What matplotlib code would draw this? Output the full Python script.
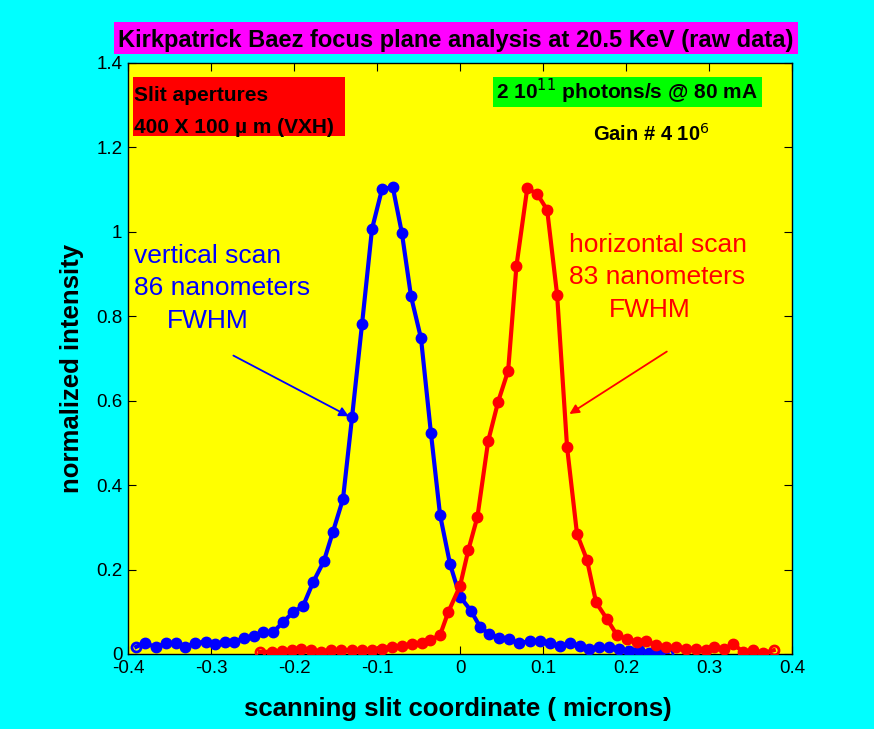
import matplotlib
matplotlib.use("Agg")
import matplotlib.pyplot as plt
from matplotlib.patches import Rectangle
from matplotlib.ticker import FormatStrFormatter, MultipleLocator

plt.rcParams['font.family'] = ['Liberation Sans', 'DejaVu Sans']

# vertical scan (blue)
blue_x = [-0.390, -0.380, -0.366, -0.354, -0.342, -0.331, -0.319, -0.306, -0.295, -0.283,
          -0.272, -0.260, -0.248, -0.237, -0.225, -0.213, -0.201, -0.189, -0.177, -0.164,
          -0.153, -0.141, -0.130, -0.118, -0.106, -0.094, -0.081, -0.070, -0.059, -0.047,
          -0.035, -0.024, -0.012, 0.000, 0.013, 0.024, 0.035, 0.047, 0.059, 0.071,
          0.084, 0.096, 0.108, 0.120, 0.132, 0.144, 0.156, 0.168, 0.180, 0.192,
          0.204, 0.216, 0.228, 0.240, 0.250]
blue_y = [0.017, 0.026, 0.016, 0.026, 0.026, 0.017, 0.026, 0.029, 0.023, 0.029,
          0.029, 0.038, 0.042, 0.052, 0.052, 0.076, 0.099, 0.114, 0.170, 0.220,
          0.290, 0.367, 0.562, 0.782, 1.007, 1.101, 1.106, 0.997, 0.847, 0.748,
          0.523, 0.329, 0.213, 0.136, 0.103, 0.065, 0.047, 0.039, 0.035, 0.025,
          0.031, 0.031, 0.025, 0.019, 0.025, 0.019, 0.013, 0.016, 0.016, 0.011,
          0.008, 0.009, 0.003, 0.005, 0.000]

# horizontal scan (red)
red_x = [-0.241, -0.227, -0.215, -0.203, -0.191, -0.179, -0.167, -0.155, -0.143, -0.130,
         -0.118, -0.106, -0.094, -0.082, -0.070, -0.058, -0.046, -0.036, -0.024, -0.014,
         0.000, 0.010, 0.021, 0.034, 0.046, 0.058, 0.068, 0.081, 0.093, 0.105,
         0.117, 0.129, 0.141, 0.153, 0.164, 0.177, 0.189, 0.201, 0.213, 0.224,
         0.236, 0.248, 0.260, 0.272, 0.284, 0.296, 0.306, 0.318, 0.329, 0.341,
         0.353, 0.365, 0.378]
red_y = [0.005, 0.005, 0.007, 0.009, 0.011, 0.009, 0.005, 0.009, 0.009, 0.009,
         0.009, 0.009, 0.013, 0.017, 0.019, 0.023, 0.025, 0.033, 0.045, 0.100,
         0.161, 0.246, 0.325, 0.505, 0.598, 0.671, 0.919, 1.103, 1.090, 1.052,
         0.851, 0.490, 0.284, 0.223, 0.122, 0.083, 0.045, 0.035, 0.029, 0.031,
         0.021, 0.017, 0.016, 0.013, 0.011, 0.009, 0.016, 0.011, 0.024, 0.005,
         0.009, 0.002, 0.009]

W, H = 874, 729
fig = plt.figure(figsize=(W / 100, H / 100), dpi=100, facecolor='#00ffff')
ax = fig.add_axes([128 / W, 1 - 654 / H, 664 / W, 591 / H])
ax.set_facecolor('#ffff00')

for xs, ys, c in [(blue_x, blue_y, '#0000ff'), (red_x, red_y, '#ff0000')]:
    ax.plot(xs, ys, '-', color=c, lw=3, marker='o', ms=7.5, mfc=c, mec=c,
            markevery=list(range(1, len(xs) - 1)), zorder=3)
    ax.plot([xs[0], xs[-1]], [ys[0], ys[-1]], 'o', ms=6.5, mfc='none', mec=c, mew=2, zorder=3)

ax.set_xlim(-0.4, 0.4)
ax.set_ylim(0, 1.4)
ax.xaxis.set_major_locator(MultipleLocator(0.1))
ax.yaxis.set_major_locator(MultipleLocator(0.2))
ax.xaxis.set_major_formatter(FormatStrFormatter('%g'))
ax.yaxis.set_major_formatter(FormatStrFormatter('%g'))
ax.tick_params(direction='in', top=True, right=True, length=6, labelsize=13.5, pad=4)
for s in ax.spines.values():
    s.set_linewidth(1)

ax.set_xlabel('scanning slit coordinate ( microns)', fontsize=18.5, fontweight='bold')
ax.xaxis.set_label_coords((458 - 128) / 664, -(697 - 654) / 591)
ax.set_ylabel('normalized intensity', fontsize=18.5, fontweight='bold')
ax.yaxis.set_label_coords(-(128 - 84) / 664, (654 - 368) / 591)

# title in magenta box
fig.patches.append(Rectangle((114 / W, 1 - 54 / H), 684 / W, 32 / H,
                             transform=fig.transFigure, fc='#ff00ff', ec='none'))
fig.text(456 / W, 1 - 46.7 / H, 'Kirkpatrick Baez focus plane analysis at 20.5 KeV (raw data)',
         fontsize=17, fontweight='bold', ha='center', va='baseline')


def px(x, y):
    return (x - 128) / 664, (654 - y) / 591


# slit aperture box
ax.add_patch(Rectangle(px(132.7, 136), (345 - 132.7) / 664, (136 - 77.3) / 591,
                       transform=ax.transAxes, fc='#ff0000', ec='none', zorder=4))
ax.text(*px(134, 100.7), 'Slit apertures', transform=ax.transAxes,
        fontsize=15, fontweight='bold', va='baseline', zorder=5)
ax.text(*px(134, 133.3), '400 X 100 \u00b5 m (VXH)', transform=ax.transAxes,
        fontsize=15, fontweight='bold', va='baseline', zorder=5)

# flux box
ax.add_patch(Rectangle(px(493.3, 106.7), (761.7 - 493.3) / 664, (106.7 - 77.3) / 591,
                       transform=ax.transAxes, fc='#00ff00', ec='none', zorder=4))
ax.text(*px(496, 99.3), r'2 10$^{11}$ photons/s @ 80 mA', transform=ax.transAxes,
        fontsize=15, fontweight='bold', va='baseline', zorder=5)
ax.text(*px(593, 140.7), r'Gain # 4 10$^{6}$', transform=ax.transAxes,
        fontsize=14.5, fontweight='bold', va='baseline', zorder=5)

# scan annotations
ax.text(*px(134, 262.7), 'vertical scan', transform=ax.transAxes, color='#0000ff',
        fontsize=19, va='baseline')
ax.text(*px(134, 295), '86 nanometers', transform=ax.transAxes, color='#0000ff',
        fontsize=19, va='baseline')
ax.text(*px(166.7, 328.3), 'FWHM', transform=ax.transAxes, color='#0000ff',
        fontsize=19, va='baseline')
ax.text(*px(569.3, 251.7), 'horizontal scan', transform=ax.transAxes, color='#ff0000',
        fontsize=19, va='baseline')
ax.text(*px(569.3, 284), '83 nanometers', transform=ax.transAxes, color='#ff0000',
        fontsize=19, va='baseline')
ax.text(*px(609.3, 316.7), 'FWHM', transform=ax.transAxes, color='#ff0000',
        fontsize=19, va='baseline')

ax.annotate('', xy=(-0.131, 0.56), xytext=(-0.276, 0.71),
            arrowprops=dict(arrowstyle='-|>', color='#0000ff', lw=1.3, mutation_scale=14))
ax.annotate('', xy=(0.129, 0.565), xytext=(0.252, 0.72),
            arrowprops=dict(arrowstyle='-|>', color='#ff0000', lw=1.3, mutation_scale=14))

fig.savefig('out.png', dpi=100, facecolor=fig.get_facecolor())
